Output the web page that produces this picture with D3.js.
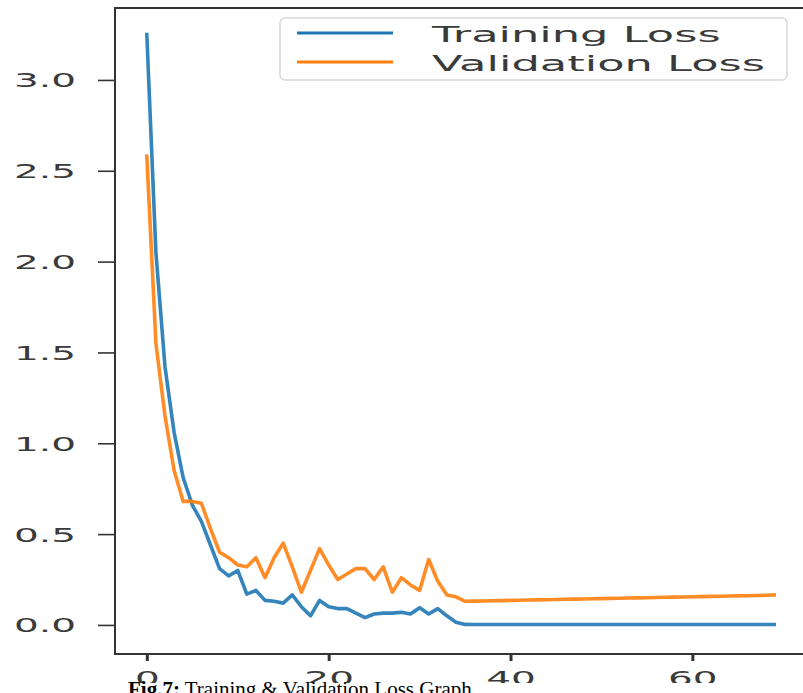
<!DOCTYPE html>
<html>
<head>
<meta charset="utf-8">
<script src="https://cdn.jsdelivr.net/npm/d3@7"></script>
<style>
  html, body { margin: 0; padding: 0; background: #fff; overflow: hidden; }
  svg { display: block; }
</style>
</head>
<body>
<svg id="chart" width="803" height="693"></svg>
<script>
// ---- data ----
const epochs = d3.range(0, 70);
const trainingLoss = [3.25, 2.05, 1.42, 1.06, 0.81, 0.66, 0.57, 0.44, 0.31, 0.27,
  0.30, 0.17, 0.19, 0.135, 0.13, 0.12, 0.165, 0.10, 0.05, 0.135,
  0.10, 0.09, 0.09, 0.065, 0.04, 0.06, 0.065, 0.065, 0.07, 0.06,
  0.095, 0.06, 0.09, 0.05, 0.015, 0.003, 0.002, 0.002, 0.002, 0.002,
  0.002, 0.002, 0.002, 0.002, 0.002, 0.002, 0.002, 0.002, 0.002, 0.002,
  0.002, 0.002, 0.002, 0.002, 0.002, 0.002, 0.002, 0.002, 0.002, 0.002,
  0.002, 0.002, 0.002, 0.002, 0.002, 0.002, 0.002, 0.002, 0.002, 0.002];
const validationLoss = [2.58, 1.55, 1.15, 0.85, 0.68, 0.68, 0.67, 0.53, 0.40, 0.37,
  0.33, 0.32, 0.37, 0.26, 0.37, 0.45, 0.32, 0.18, 0.30, 0.42,
  0.33, 0.25, 0.28, 0.31, 0.31, 0.25, 0.32, 0.18, 0.26, 0.22,
  0.19, 0.36, 0.24, 0.165, 0.155, 0.13, 0.131, 0.132, 0.133, 0.134,
  0.135, 0.136, 0.137, 0.138, 0.139, 0.140, 0.141, 0.142, 0.143, 0.144,
  0.145, 0.146, 0.147, 0.148, 0.149, 0.150, 0.151, 0.152, 0.153, 0.154,
  0.155, 0.156, 0.157, 0.158, 0.159, 0.160, 0.161, 0.162, 0.163, 0.165];
const xTicks = [0, 20, 40, 60];
const yTicks = [0.0, 0.5, 1.0, 1.5, 2.0, 2.5, 3.0];
const seriesNames = ["Training Loss", "Validation Loss"];
const seriesColors = ["#1f77b4", "#ff7f0e"];
const caption = ["Fig.7:", " Training & Validation Loss Graph"];

// ---- layout ----
const svg = d3.select("#chart");
const plot = { left: 115, top: 8, right: 806, bottom: 654 };
const sx = 2.0; // horizontal stretch of the original picture's text

const x = d3.scaleLinear().domain([-3.5, 72.5]).range([plot.left, plot.right]);
const y = d3.scaleLinear().domain([-0.16, 3.396]).range([plot.bottom, plot.top]);

// lines
const line = d3.line().x((d, i) => x(epochs[i])).y(d => y(d));
[trainingLoss, validationLoss].forEach((s, k) => {
  svg.append("path")
    .datum(s)
    .attr("d", line)
    .attr("fill", "none")
    .attr("stroke", seriesColors[k])
    .attr("stroke-width", 3.6)
    .attr("stroke-linejoin", "round")
    .attr("stroke-linecap", "square")
    .attr("opacity", 0.9);
});

// axes
const yAxis = svg.append("g")
  .attr("transform", `translate(${plot.left},0)`)
  .call(d3.axisLeft(y).tickValues(yTicks).tickSize(17).tickSizeOuter(0).tickFormat(d3.format(".1f")));
yAxis.select(".domain").remove();
yAxis.selectAll(".tick line").attr("stroke", "#333").attr("stroke-width", 1.6);
yAxis.selectAll(".tick text")
  .attr("x", 0).attr("dy", "0.36em")
  .attr("transform", `translate(-39,0) scale(${sx},1)`)
  .attr("text-anchor", "end")
  .attr("font-family", "DejaVu Sans")
  .attr("font-size", 19.5)
  .attr("fill", "#3a3a3a");

const xAxis = svg.append("g")
  .attr("transform", `translate(0,${plot.bottom})`)
  .call(d3.axisBottom(x).tickValues(xTicks).tickSize(7).tickSizeOuter(0).tickFormat(d3.format("d")));
xAxis.select(".domain").remove();
xAxis.selectAll(".tick line").attr("stroke", "#333").attr("stroke-width", 3);
xAxis.selectAll(".tick text")
  .attr("y", 0).attr("dy", 0)
  .attr("transform", `translate(0,31) scale(${sx},1)`)
  .attr("text-anchor", "middle")
  .attr("font-family", "DejaVu Sans")
  .attr("font-size", 19.5)
  .attr("fill", "#3a3a3a");

// spines
svg.append("rect")
  .attr("x", plot.left).attr("y", plot.top)
  .attr("width", plot.right - plot.left).attr("height", plot.bottom - plot.top)
  .attr("fill", "none").attr("stroke", "#333").attr("stroke-width", 2);

// legend
const lg = svg.append("g");
lg.append("rect")
  .attr("x", 280).attr("y", 18).attr("width", 507).attr("height", 62)
  .attr("rx", 5)
  .attr("fill", "#fff").attr("fill-opacity", 0.85)
  .attr("stroke", "#d8d8d8").attr("stroke-width", 1.5);
seriesNames.forEach((name, k) => {
  const cy = 33 + k * 29;
  lg.append("line")
    .attr("x1", 297).attr("x2", 393).attr("y1", cy).attr("y2", cy)
    .attr("stroke", seriesColors[k]).attr("stroke-width", 3);
  lg.append("text")
    .attr("x", 0).attr("y", 0)
    .attr("transform", `translate(432,${cy + 9}) scale(2.13,1)`)
    .attr("font-family", "DejaVu Sans")
    .attr("font-size", 21)
    .attr("fill", "#3a3a3a")
    .text(name);
});

// caption band: the page below the figure covers the lower part of the x tick labels
svg.append("rect")
  .attr("x", 0).attr("y", 683).attr("width", 803).attr("height", 10)
  .attr("fill", "#fff");
const cap = svg.append("text")
  .attr("x", 128).attr("y", 696)
  .attr("font-family", "Liberation Serif")
  .attr("font-size", 21)
  .attr("fill", "#000");
cap.append("tspan").attr("font-weight", "bold").text(caption[0]);
cap.append("tspan").text(caption[1]);
</script>
</body>
</html>
